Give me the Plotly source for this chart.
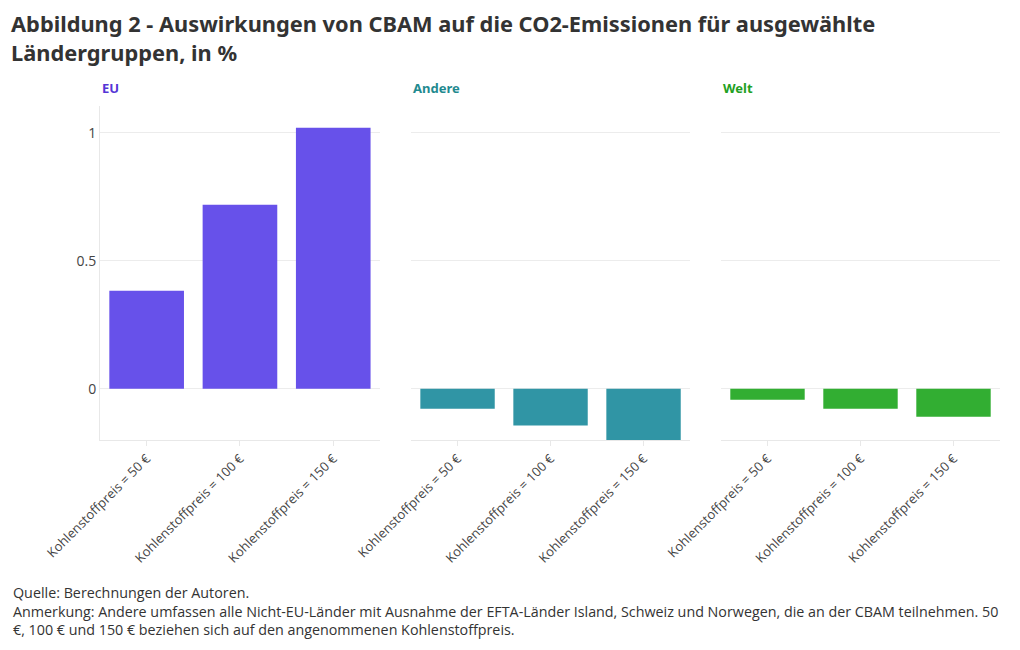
import plotly.graph_objects as go
from plotly.subplots import make_subplots

categories = ["Kohlenstoffpreis = 50 €", "Kohlenstoffpreis = 100 €", "Kohlenstoffpreis = 150 €"]
groups = ["EU", "Andere", "Welt"]
eu_values = [0.383, 0.719, 1.02]
andere_values = [-0.078, -0.143, -0.2]
welt_values = [-0.043, -0.078, -0.109]
colors = ["#6751ea", "#3095a5", "#32ae32"]
title_colors = ["#5535d6", "#1f8a8f", "#22a022"]
y_ticks = [0, 0.5, 1]
y_tick_labels = ["0", "0.5", "1"]

fig = make_subplots(rows=1, cols=3, shared_yaxes=True, horizontal_spacing=0.0344)

for i, (name, vals, col) in enumerate(zip(groups, [eu_values, andere_values, welt_values], colors)):
    fig.add_trace(go.Bar(x=categories, y=vals, name=name, marker=dict(color=col, line=dict(width=0)),
                         showlegend=False), row=1, col=i + 1)

doms = [[0, 0.311], [0.3456, 0.6556], [0.69, 1.0]]
for i in range(3):
    ax = "xaxis" if i == 0 else f"xaxis{i+1}"
    fig.layout[ax].update(domain=doms[i], tickangle=-45, showline=True, linecolor="#e8e8e8",
                          ticks="outside", tickcolor="#e8e8e8", ticklen=5, showgrid=False,
                          automargin=False,
                          tickfont=dict(size=13, color="#444", family="Open Sans"))
    ay = "yaxis" if i == 0 else f"yaxis{i+1}"
    fig.layout[ay].update(range=[-0.2, 1.105], tickvals=y_ticks, ticktext=y_tick_labels,
                          showgrid=True, gridcolor="#ececec", zeroline=False,
                          showline=(i == 0), linecolor="#e8e8e8", automargin=False,
                          tickfont=dict(size=14, color="#444", family="Open Sans"))

for i, (name, col) in enumerate(zip(groups, title_colors)):
    fig.add_annotation(text=f"<b>{name}</b>", x=doms[i][0], xref="paper", y=1.021, yref="paper",
                       xanchor="left", yanchor="bottom", showarrow=False,
                       font=dict(size=13, color=col, family="Noto Sans"))

fig.update_layout(
    width=1012, height=642,
    margin=dict(l=92, r=20, t=98, b=210),
    plot_bgcolor="white", paper_bgcolor="white",
    bargap=0.2,
    title=dict(text="<b>Abbildung 2 - Auswirkungen von CBAM auf die CO2-Emissionen für ausgewählte<br>Ländergruppen, in %</b>",
               x=0.003, xanchor="left", y=0.962, yanchor="top",
               font=dict(size=21.8, color="#333", family="Noto Sans")),
)

fig.add_annotation(
    text="Quelle: Berechnungen der Autoren.<br>Anmerkung: Andere umfassen alle Nicht-EU-Länder mit Ausnahme der EFTA-Länder Island, Schweiz und Norwegen, die an der CBAM teilnehmen. 50<br>€, 100 € und 150 € beziehen sich auf den angenommenen Kohlenstoffpreis.",
    xref="paper", yref="paper", x=-0.0989, y=-0.422, xanchor="left", yanchor="top",
    align="left", showarrow=False, font=dict(size=14.3, color="#333", family="Open Sans"))

fig.write_html("out.html")
